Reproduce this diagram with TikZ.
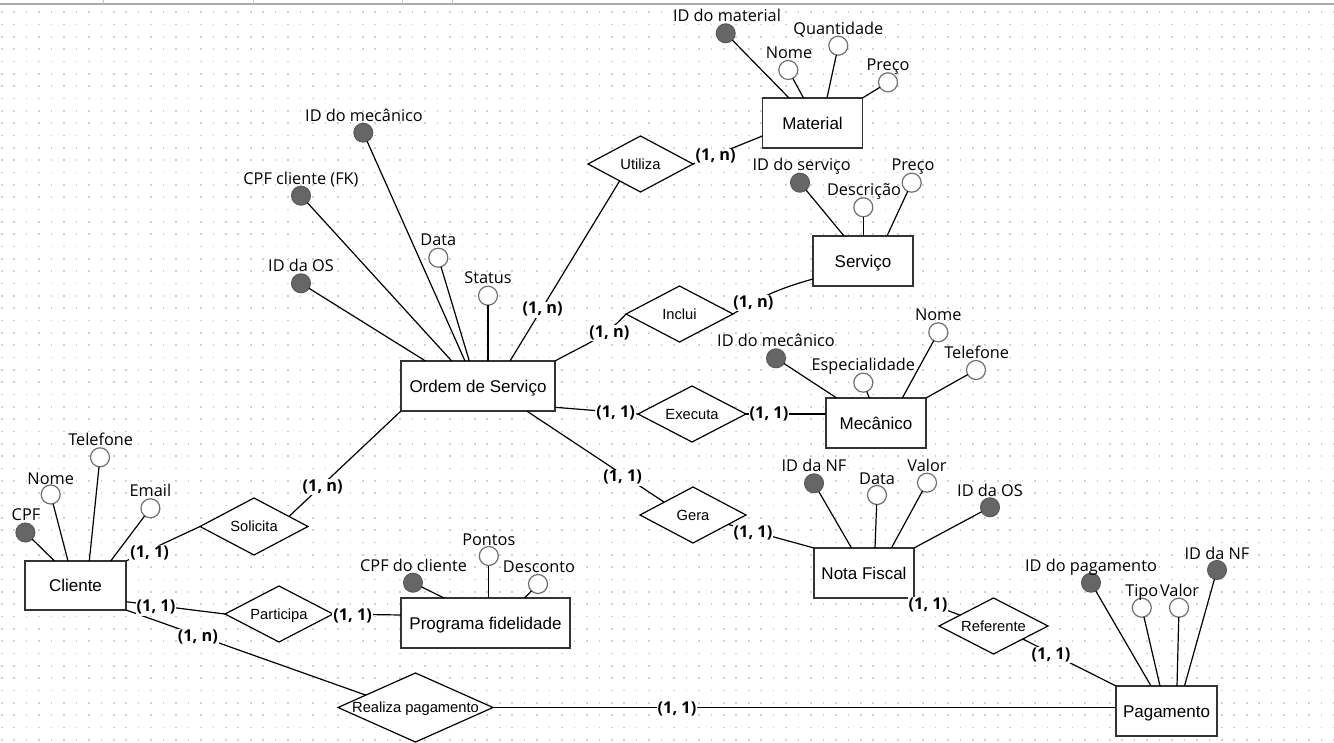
\documentclass[tikz,border=0pt]{standalone}
\usepackage{fontspec}
\setmainfont{Open Sans}
\newfontfamily\entfont{Liberation Sans}
\usetikzlibrary{shapes.geometric}

\definecolor{keyfill}{HTML}{666666}
\definecolor{keyline}{HTML}{595959}
\definecolor{attline}{HTML}{707070}
\definecolor{boxline}{HTML}{333333}
\definecolor{griddot}{HTML}{CFCFCF}
\definecolor{ruler}{HTML}{ABABAB}

\tikzset{
  entity/.style={rectangle, draw=boxline, line width=1.5pt, fill=white,
    inner sep=0pt, outer sep=0pt,
    font=\entfont\fontsize{17}{20}\selectfont, text height=12.3pt, text depth=0pt},
  rel/.style={diamond, draw=black, line width=1.2pt, fill=white,
    inner sep=0pt, outer sep=0pt,
    font=\entfont\fontsize{14.7}{17}\selectfont, text height=10.5pt, text depth=0pt},
  keyattr/.style={circle, draw=keyline, fill=keyfill, line width=1pt,
    minimum size=19pt, inner sep=0pt, outer sep=0pt},
  attr/.style={circle, draw=attline, fill=white, line width=1.2pt,
    minimum size=19pt, inner sep=0pt, outer sep=0pt},
  alabel/.style={font=\fontsize{16.3}{19}\selectfont, inner sep=0pt,
    text height=12pt, text depth=0pt},
  card/.style={font=\bfseries\fontsize{16.3}{19}\selectfont, fill=white,
    inner sep=1pt, text height=11pt, text depth=3pt},
  link/.style={draw=black, line width=1.2pt},
}

% attribute: name, style, circle x, circle y, label x, label y, text
\newcommand\attrib[7]{%
  \node[#2] (#1) at (#3,#4) {};
  \node[alabel] (#1-t) at (#5,#6) {#7};
}

\begin{document}
\begin{tikzpicture}[x=1pt,y=-1pt]
\useasboundingbox[fill=white] (0,0) rectangle (1334,743);

% dotted background grid
\foreach \j in {0,...,59}
  \draw[griddot, line width=1.6pt, dash pattern=on 1.6pt off 10.85pt]
    (0.9,12.3+12.33*\j) -- (1334,12.3+12.33*\j);

% ruler strip along the top edge
\draw[ruler, line width=1.5pt] (0,4) -- (1334,4);
\foreach \x in {103,253,402,452}
  \draw[ruler!70, line width=1pt] (\x,0) -- (\x,4);

% entities
\node[entity, minimum width=100pt, minimum height=50pt] (mat)  at (812.5,123) {Material};
\node[entity, minimum width=100pt, minimum height=50pt] (serv) at (863,261)   {Serviço};
\node[entity, minimum width=154pt, minimum height=50pt] (os)   at (478,386)   {Ordem de Serviço};
\node[entity, minimum width=100pt, minimum height=50pt] (mec)  at (876,423)   {Mecânico};
\node[entity, minimum width=100pt, minimum height=50pt] (nf)   at (864,573)   {Nota Fiscal};
\node[entity, minimum width=101pt, minimum height=50pt] (pag)  at (1166.5,711) {Pagamento};
\node[entity, minimum width=101pt, minimum height=49pt] (cli)  at (75.5,585.5) {Cliente};
\node[entity, minimum width=169pt, minimum height=50pt] (prog) at (485.5,623) {Programa fidelidade};

% relationships
\node[rel, minimum width=105pt, minimum height=56pt] (utiliza)   at (640.5,164) {\makebox[0pt]{Utiliza}};
\node[rel, minimum width=107pt, minimum height=56pt] (inclui)    at (679.5,314) {\makebox[0pt]{Inclui}};
\node[rel, minimum width=108pt, minimum height=56pt] (executa)   at (692,414)   {\makebox[0pt]{Executa}};
\node[rel, minimum width=106pt, minimum height=56pt] (gera)      at (693,515)   {\makebox[0pt]{Gera}};
\node[rel, minimum width=108pt, minimum height=57pt] (solicita)  at (254,526.5) {\makebox[0pt]{Solicita}};
\node[rel, minimum width=108pt, minimum height=56pt] (participa) at (279,614)   {\makebox[0pt]{Participa}};
\node[rel, minimum width=155pt, minimum height=69pt] (realiza)   at (415.5,707.5) {\makebox[0pt]{Realiza pagamento}};
\node[rel, minimum width=109pt, minimum height=56pt] (referente) at (993.5,626) {\makebox[0pt]{Referente}};

% attributes of Material
\attrib{matid}{keyattr}{725.7}{33.3}{727}{16}{ID do material}
\attrib{matnome}{attr}{788.3}{70}{789}{53}{Nome}
\attrib{matqtd}{attr}{838.3}{45.7}{838.3}{29}{Quantidade}
\attrib{matpreco}{attr}{888}{82.3}{888}{65}{Preço}
\draw[link] (matid)    -- ([xshift=26.5pt]mat.north west);
\draw[link] (matnome)  -- ([xshift=41pt]mat.north west);
\draw[link] (matqtd)   -- ([xshift=64.5pt]mat.north west);
\draw[link] (matpreco) -- (mat.north east);

% attributes of Serviço
\attrib{servid}{keyattr}{800}{182.7}{801.7}{165}{ID do serviço}
\attrib{servdesc}{attr}{863.3}{207.3}{864}{190}{Descrição}
\attrib{servpreco}{attr}{911.7}{182.7}{913}{165}{Preço}
\draw[link] (servid)    -- ([xshift=31pt]serv.north west);
\draw[link] (servdesc)  -- ([xshift=50.3pt]serv.north west);
\draw[link] (servpreco) -- ([xshift=74pt]serv.north west);

% attributes of Ordem de Serviço
\attrib{osmec}{keyattr}{363.3}{132.7}{364}{115.7}{ID do mecânico}
\attrib{oscpf}{keyattr}{301}{195.7}{301}{178.3}{CPF cliente (FK)}
\attrib{osid}{keyattr}{301}{283.3}{301}{265.5}{ID da OS}
\attrib{osdata}{attr}{438.3}{257.7}{438.3}{240}{Data}
\attrib{osstatus}{attr}{488}{295.7}{488}{278}{Status}
\draw[link] (osid)     -- ([xshift=24.5pt]os.north west);
\draw[link] (oscpf)    -- ([xshift=50.7pt]os.north west);
\draw[link] (osmec)    -- ([xshift=64pt]os.north west);
\draw[link] (osdata)   -- ([xshift=68.3pt]os.north west);
\draw[link] (osstatus) -- ([xshift=87pt]os.north west);

% attributes of Mecânico
\attrib{mecid}{keyattr}{776}{358.3}{776}{340.5}{ID do mecânico}
\attrib{mecesp}{attr}{863.3}{382.7}{863.3}{365}{Especialidade}
\attrib{mecnome}{attr}{938.3}{332.3}{938.3}{315}{Nome}
\attrib{mectel}{attr}{976}{370}{976.7}{352.7}{Telefone}
\draw[link] (mecid)   -- ([xshift=10.7pt]mec.north west);
\draw[link] (mecesp)  -- ([xshift=43.3pt]mec.north west);
\draw[link] (mecnome) -- ([xshift=76.3pt]mec.north west);
\draw[link] (mectel)  -- (mec.north east);

% attributes of Nota Fiscal
\attrib{nfid}{keyattr}{814}{483.3}{814}{465.5}{ID da NF}
\attrib{nfdata}{attr}{877}{495}{877}{478}{Data}
\attrib{nfvalor}{attr}{927}{482.7}{927}{465.5}{Valor}
\attrib{nfos}{keyattr}{990}{507.3}{990}{490}{ID da OS}
\draw[link] (nfid)    -- ([xshift=37.5pt]nf.north west);
\draw[link] (nfdata)  -- ([xshift=61pt]nf.north west);
\draw[link] (nfvalor) -- ([xshift=77.4pt]nf.north west);
\draw[link] (nfos)    -- (nf.north east);

% attributes of Pagamento
\attrib{pagid}{keyattr}{1091}{582.7}{1091}{565}{ID do pagamento}
\attrib{pagtipo}{attr}{1141.8}{607.7}{1141.8}{590}{Tipo}
\attrib{pagvalor}{attr}{1179}{607.7}{1179.6}{590}{Valor}
\attrib{pagnf}{keyattr}{1217}{570}{1217}{553}{ID da NF}
\draw[link] (pagid)    -- ([xshift=35pt]pag.north west);
\draw[link] (pagtipo)  -- ([xshift=44pt]pag.north west);
\draw[link] (pagvalor) -- ([xshift=61pt]pag.north west);
\draw[link] (pagnf)    -- ([xshift=68.5pt]pag.north west);

% attributes of Cliente
\attrib{clicpf}{keyattr}{25.4}{532.5}{26}{514.5}{CPF}
\attrib{clinome}{attr}{50.7}{494.5}{50.7}{478}{Nome}
\attrib{clitel}{attr}{100}{457.3}{100.7}{440}{Telefone}
\attrib{cliemail}{attr}{150.4}{508.3}{150.4}{490.5}{Email}
\draw[link] (clicpf)   -- ([xshift=29.5pt]cli.north west);
\draw[link] (clinome)  -- ([xshift=43pt]cli.north west);
\draw[link] (clitel)   -- ([xshift=64.3pt]cli.north west);
\draw[link] (cliemail) -- ([xshift=85.7pt]cli.north west);

% attributes of Programa fidelidade
\attrib{progcpf}{keyattr}{413}{582.7}{413.6}{565.5}{CPF do cliente}
\attrib{progpontos}{attr}{488.8}{556}{488.8}{539.5}{Pontos}
\attrib{progdesc}{attr}{538}{584}{539}{566}{Desconto}
\draw[link] (progcpf)    -- ([xshift=43pt]prog.north west);
\draw[link] (progpontos) -- ([xshift=87.8pt]prog.north west);
\draw[link] (progdesc)   -- ([xshift=123.6pt]prog.north west);

% relationship connectors
\draw[link] (utiliza.east) -- ([yshift=-13pt]mat.west);
\draw[link] (utiliza.219) -- ([xshift=109pt]os.north west);
\draw[link] (inclui.east) to[bend left=8] ([yshift=-18pt]serv.west);
\draw[link] (os.north east) to[out=29,in=228] (inclui.west);
\draw[link] ([yshift=-21.3pt]os.east) -- (executa.west);
\draw[link] (executa.east) -- ([yshift=9pt]mec.west);
\draw[link] ([xshift=48.7pt]os.south) -- (gera.156.7);
\draw[link] (gera.345.7) -- (nf.north west);
\draw[link] (os.south west) -- (solicita.16.3);
\draw[link] (solicita.west) -- (cli.north east);
\draw[link] ([yshift=-16.2pt]cli.east) -- (participa.west);
\draw[link] (participa.east) -- ([yshift=8pt]prog.west);
\draw[link] (cli.south east) -- (realiza.166.4);
\draw[link] (realiza.east) -- ([yshift=3.5pt]pag.west);
\draw[link] (nf.south east) -- (referente.162.6);
\draw[link] (referente.336.2) -- (pag.north west);

% cardinalities
\node[card] (c-utmat)   at (715.7,156.7) {(1, n)};
\node[card] (c-utos)    at (542.7,310)   {(1, n)};
\node[card] (c-inserv)  at (753.3,303.3) {(1, n)};
\node[card] (c-inos)    at (609.3,333.3) {(1, n)};
\node[card] (c-exos)    at (615.7,413.3) {(1, 1)};
\node[card] (c-exmec)   at (769,414)     {(1, 1)};
\node[card] (c-geos)    at (622.7,477.7) {(1, 1)};
\node[card] (c-genf)    at (753,533.3)   {(1, 1)};
\node[card] (c-soos)    at (322.7,487.3) {(1, n)};
\node[card] (c-socli)   at (149.6,553.3) {(1, 1)};
\node[card] (c-pacli)   at (156,607.7)   {(1, 1)};
\node[card] (c-paprog)  at (352.7,616)   {(1, 1)};
\node[card] (c-recli)   at (197.8,637.3) {(1, n)};
\node[card] (c-repag)   at (677,709.5)   {(1, 1)};
\node[card] (c-rfnf)    at (928,605)     {(1, 1)};
\node[card] (c-rfpag)   at (1051,655)    {(1, 1)};
\end{tikzpicture}
\end{document}
